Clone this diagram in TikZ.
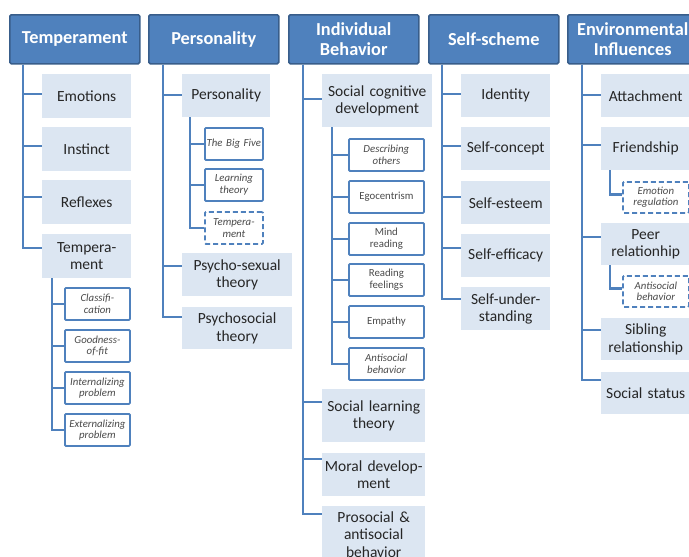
\documentclass[tikz,border=0pt]{standalone}
\usepackage{fontspec}
\setmainfont{Carlito}
\definecolor{hdrfill}{HTML}{4F81BD}
\definecolor{hdrline}{HTML}{385D8A}
\definecolor{lightfill}{HTML}{DCE6F2}
\definecolor{linecol}{HTML}{4F81BD}
\definecolor{childtext}{HTML}{262626}
\definecolor{subtext}{HTML}{4A4A4A}
\tikzset{
  hdr/.style={draw=hdrline, line width=1.5pt, fill=hdrfill, text=white, rounded corners=1.5pt,
    inner sep=0pt, text width=130pt, minimum height=49pt, align=center, anchor=north west,
    font=\fontsize{18.3}{20}\selectfont\bfseries},
  child/.style={fill=lightfill, text=childtext, inner sep=0pt, align=center, anchor=north west,
    font=\fontsize{15.5}{17.5}\selectfont},
  sub/.style={draw=linecol, line width=1.8pt, fill=white, text=subtext, rounded corners=1pt,
    inner sep=0pt, align=center, anchor=north west, font=\fontsize{10.8}{11.5}\selectfont\itshape},
  subup/.style={sub, font=\fontsize{10.8}{11.5}\selectfont},
  dsub/.style={sub, dash pattern=on 5pt off 3pt},
  conn/.style={draw=linecol, line width=2.4pt},
}
\begin{document}
\begin{tikzpicture}[x=1pt, y=-1pt]
\useasboundingbox (0,0) rectangle (689,557);
\clip (0,0) rectangle (689,557);
% headers
\node[hdr] (T) at (9,14) {Temperament};
\node[hdr] (P) at (148,14) {Personality};
\node[hdr] (I) at (288,14) {Individual\\Behavior};
\node[hdr] (S) at (428,14) {Self-scheme};
\node[hdr] (E) at (567,14) {Environmental\\Influences};

% Temperament column
\node[child, text width=89pt, minimum height=44pt] (t1) at (42,74) {Emotions};
\node[child, text width=89pt, minimum height=44pt] (t2) at (42,127) {Instinct};
\node[child, text width=89pt, minimum height=44pt] (t3) at (42,180) {Reflexes};
\node[child, text width=89pt, minimum height=44pt] (t4) at (42,234) {Tempera-\\ment};
\node[sub, text width=65pt, minimum height=32pt] (t41) at (64,287) {Classifi-\\cation};
\node[sub, text width=65pt, minimum height=32pt] (t42) at (64,329) {Goodness-\\of-fit};
\node[sub, text width=65pt, minimum height=32pt] (t43) at (64,371) {Internalizing\\problem};
\node[sub, text width=65pt, minimum height=32pt] (t44) at (64,413) {Externalizing\\problem};

% Personality column
\node[child, text width=88pt, minimum height=43pt] (p1) at (182,74) {Personality};
\node[sub, text width=58pt, minimum height=32pt] (p11) at (204,127) {The Big Five};
\node[sub, text width=58pt, minimum height=32pt] (p12) at (204,168) {Learning\\theory};
\node[dsub, text width=58pt, minimum height=32pt] (p13) at (204,211) {Tempera-\\ment};
\node[child, text width=110pt, minimum height=43pt] (p2) at (182,253) {Psycho-sexual\\theory};
\node[child, text width=110pt, minimum height=42pt] (p3) at (182,307) {Psychosocial\\theory};

% Individual Behavior column
\node[child, text width=110pt, minimum height=53pt] (i1) at (322,74) {Social cognitive\\development};
\node[sub, text width=75pt, minimum height=32pt] (i11) at (348,138) {Describing\\others};
\node[subup, text width=75pt, minimum height=32pt] (i12) at (348,180) {Egocentrism};
\node[subup, text width=75pt, minimum height=32pt] (i13) at (348,222) {Mind\\reading};
\node[subup, text width=75pt, minimum height=32pt] (i14) at (348,263) {Reading\\feelings};
\node[subup, text width=75pt, minimum height=32pt] (i15) at (348,305) {Empathy};
\node[sub, text width=75pt, minimum height=32pt] (i16) at (348,347) {Antisocial\\behavior};
\node[child, text width=103pt, minimum height=53pt] (i2) at (322,389) {Social learning\\theory};
\node[child, text width=103pt, minimum height=43pt] (i3) at (322,453) {Moral develop-\\ment};
\node[child, text width=103pt, minimum height=56pt] (i4) at (322,506) {Prosocial \&\\antisocial\\behavior};

% Self-scheme column
\node[child, text width=89pt, minimum height=43pt] (s1) at (461,74) {Identity};
\node[child, text width=89pt, minimum height=43pt] (s2) at (461,127) {Self-concept};
\node[child, text width=89pt, minimum height=43pt] (s3) at (461,181) {Self-esteem};
\node[child, text width=89pt, minimum height=43pt] (s4) at (461,234) {Self-efficacy};
\node[child, text width=89pt, minimum height=43pt] (s5) at (461,287) {Self-under-\\standing};

% Environmental Influences column
\node[child, text width=89pt, minimum height=43pt] (e1) at (601,74) {Attachment};
\node[child, text width=89pt, minimum height=43pt] (e2) at (601,127) {Friendship};
\node[dsub, text width=66pt, minimum height=31pt] (e21) at (622,181) {Emotion\\regulation};
\node[child, text width=89pt, minimum height=42pt] (e3) at (601,223) {Peer\\relationhip};
\node[dsub, text width=66pt, minimum height=31pt] (e31) at (622,275) {Antisocial\\behavior};
\node[child, text width=89pt, minimum height=42pt] (e4) at (601,318) {Sibling\\relationship};
\node[child, text width=89pt, minimum height=42pt] (e5) at (601,372) {Social status};

% connectors: Temperament
\draw[conn] ([xshift=14pt]T.south west) |- ([yshift=-20pt]t1.north west);
\draw[conn] ([xshift=14pt]T.south west) |- ([yshift=-19pt]t2.north west);
\draw[conn] ([xshift=14pt]T.south west) |- ([yshift=-17pt]t3.north west);
\draw[conn] ([xshift=14pt]T.south west) |- ([yshift=-14pt]t4.north west);
\foreach \c in {t41,t42,t43,t44} \draw[conn] ([xshift=10pt]t4.south west) |- (\c.west);
% Personality
\draw[conn] ([xshift=15pt]P.south west) |- ([yshift=-21pt]p1.north west);
\draw[conn] ([xshift=15pt]P.south west) |- ([yshift=-13pt]p2.north west);
\draw[conn] ([xshift=15pt]P.south west) |- ([yshift=-10pt]p3.north west);
\foreach \c in {p11,p12,p13} \draw[conn] ([xshift=8pt]p1.south west) |- (\c.west);
% Individual Behavior
\draw[conn] ([xshift=15pt]I.south west) |- ([yshift=-25pt]i1.north west);
\draw[conn] ([xshift=15pt]I.south west) |- ([yshift=-13pt]i2.north west);
\draw[conn] ([xshift=15pt]I.south west) |- ([yshift=-6pt]i3.north west);
\draw[conn] ([xshift=15pt]I.south west) |- ([yshift=-8pt]i4.north west);
\foreach \c in {i11,i12,i13,i14,i15,i16} \draw[conn] ([xshift=10pt]i1.south west) |- (\c.west);
% Self-scheme
\draw[conn] ([xshift=14pt]S.south west) |- ([yshift=-20pt]s1.north west);
\draw[conn] ([xshift=14pt]S.south west) |- ([yshift=-19pt]s2.north west);
\draw[conn] ([xshift=14pt]S.south west) |- ([yshift=-16pt]s3.north west);
\draw[conn] ([xshift=14pt]S.south west) |- ([yshift=-14pt]s4.north west);
\draw[conn] ([xshift=14pt]S.south west) |- ([yshift=-12pt]s5.north west);
% Environmental
\draw[conn] ([xshift=15pt]E.south west) |- ([yshift=-21pt]e1.north west);
\draw[conn] ([xshift=15pt]E.south west) |- ([yshift=-18pt]e2.north west);
\draw[conn] ([xshift=15pt]E.south west) |- ([yshift=-14pt]e3.north west);
\draw[conn] ([xshift=15pt]E.south west) |- ([yshift=-12pt]e4.north west);
\draw[conn] ([xshift=15pt]E.south west) |- ([yshift=-8pt]e5.north west);
\draw[conn] ([xshift=9pt]e2.south west) |- ([yshift=3pt]e21.west);
\draw[conn] ([xshift=9pt]e3.south west) |- ([yshift=3pt]e31.west);
\end{tikzpicture}
\end{document}
